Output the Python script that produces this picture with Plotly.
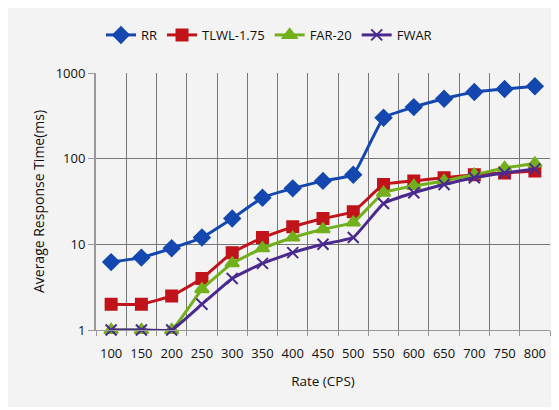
import plotly.graph_objects as go

rates = ["100", "150", "200", "250", "300", "350", "400", "450", "500",
         "550", "600", "650", "700", "750", "800"]
rr = [6.2, 7, 9, 12, 20, 35, 45, 55, 65, 300, 400, 500, 600, 650, 700]
tlwl = [2, 2, 2.5, 4, 8, 12, 16, 20, 24, 50, 55, 60, 65, 68, 72]
far20 = [1, 1, 1, 3, 6, 9, 12, 15, 18, 40, 48, 55, 65, 78, 88]
fwar = [1, 1, 1, 2, 4, 6, 8, 10, 12, 30, 40, 50, 60, 68, 76]

series = [
    ("RR", rr, "#1448b0", "diamond", 12),
    ("TLWL-1.75", tlwl, "#c0141a", "square", 11),
    ("FAR-20", far20, "#72b01c", "triangle-up", 12),
    ("FWAR", fwar, "#4b2a8f", "x-thin", 11),
]

fig = go.Figure()
for name, vals, color, sym, size in series:
    fig.add_trace(go.Scatter(
        x=rates, y=vals, name=name, mode="lines+markers", cliponaxis=False,
        line=dict(color=color, width=3, shape="spline", smoothing=0.3),
        marker=dict(symbol=sym, size=size, color=color,
                    line=dict(color=color, width=2)),
    ))

# page body has an 8px margin; figure occupies page (8,8)-(559,407)
W, H = 551, 399
L, R, T, B = 88, 542, 65, 322

font = "Open Sans, sans-serif"
fig.update_layout(
    width=W, height=H,
    margin=dict(l=L, r=W - R, t=T, b=H - B, autoexpand=False),
    paper_bgcolor="#f3f3f3", plot_bgcolor="#f3f3f3",
    font=dict(family=font, size=13, color="#111"),
    showlegend=True,
    legend=dict(orientation="h", x=0.381, xanchor="center", y=1.148, yanchor="middle",
                font=dict(size=13), itemwidth=30, bgcolor="rgba(0,0,0,0)",
                tracegroupgap=0),
    xaxis=dict(type="category", tickson="boundaries", showgrid=True,
               gridcolor="#777", gridwidth=1, ticks="outside", ticklen=5,
               tickcolor="#999", showline=True, linecolor="#999", linewidth=1,
               mirror=False, tickfont=dict(size=13), tickangle=0, automargin=False,
               ticklabelstandoff=11,
               title=dict(text="Rate (CPS)", font=dict(size=13.5), standoff=15),
               range=[-0.5, 14.5]),
    yaxis=dict(type="log", range=[0, 3], tickvals=[1, 10, 100, 1000],
               ticktext=["1", "10", "100", "1000"], showgrid=True,
               gridcolor="#777", gridwidth=1, ticks="outside", ticklen=6,
               tickcolor="#999", showline=True, linecolor="#999", linewidth=2,
               tickfont=dict(size=13), zeroline=False, automargin=False,
               title=dict(text="Average Response Time(ms)", font=dict(size=14), standoff=8)),
)

fig.write_html("out.html")
